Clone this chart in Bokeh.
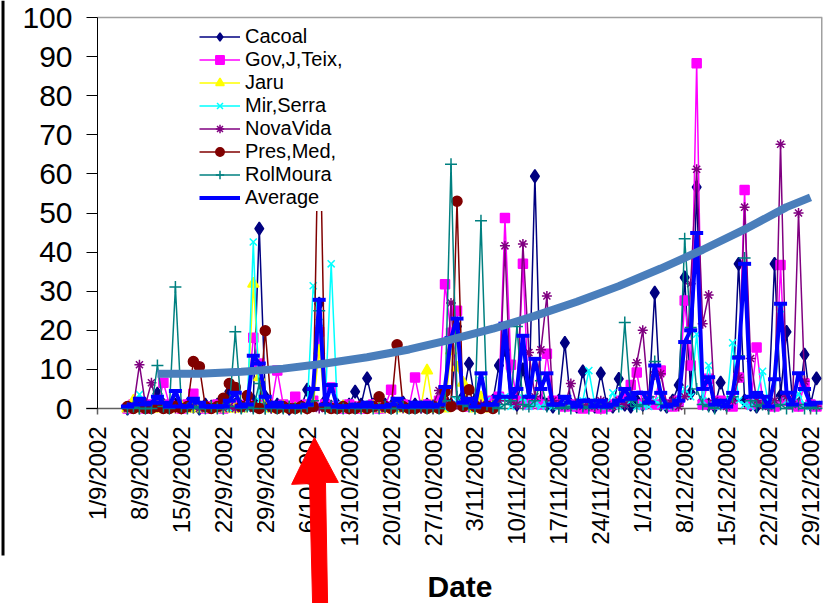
from datetime import datetime
import numpy as np
import pandas as pd
from bokeh.plotting import figure
from bokeh.models import (ColumnDataSource, FixedTicker, Legend, LegendItem,
                          Range1d, Span)
from bokeh.core.properties import value
from bokeh.embed import file_html
from bokeh.resources import INLINE

# ---------------- data (daily, 6 Sep 2002 .. 30 Dec 2002) ----------------
dates = pd.date_range("2002-09-06", "2002-12-30", freq="D")

cacoal = [0, 1, 0.5, 1, 0.5, 3.8, 1, 0.5, 1, 0.5,
          1, 0.5, 0, 1, 0.5, 1, 2, 4.3, 1, 0.5,
          1, 2, 46, 3, 0.5, 1, 0.5, 0, 1, 0.5,
          4.8, 1, 26.8, 2, 0.5, 1, 0.5, 1, 4.3, 1,
          7.7, 1, 0.5, 1, 0.5, 1, 1.5, 0.5, 1, 0.5,
          1, 0.5, 1, 2, 1, 21, 3, 11.5, 2, 1,
          1, 2, 11, 15, 2, 1, 10, 2, 59.4, 2,
          1, 0.5, 2, 16.8, 1, 0.5, 9.5, 1, 0.5, 9,
          1, 0.5, 7.6, 1, 0.5, 2, 1, 2, 29.6, 1,
          0.5, 2, 6, 33.5, 4, 56.6, 2, 1, 0.5, 6.6,
          1, 2, 37, 2, 1, 0.5, 2, 1, 37, 3.3,
          19.6, 2, 1, 13.8, 1, 7.7]

gov_teix = [0, 1, 0.5, 0, 1, 0.5, 6.6, 1, 0.5, 0,
            1, 3.8, 0.5, 0, 0.5, 1, 0, 0.5, 1, 0.5,
            1, 18.1, 11.5, 1, 0.5, 9.7, 1, 0.5, 3, 0.5,
            1, 2, 19.6, 1, 5.4, 0.5, 0, 1, 0.5, 0,
            0.5, 1, 0, 0.5, 4.8, 0.5, 1, 0.5, 7.9, 0.5,
            1, 0.5, 2, 31.8, 19.4, 25, 1, 0.5, 1, 0.5,
            1, 2, 3, 48.7, 11.2, 2, 37, 1, 2, 1,
            14, 2, 1, 0.5, 1, 0.5, 0, 1, 0.5, 0,
            0.5, 1, 2, 3, 6, 9.2, 1, 2, 1, 9.7,
            1, 0.5, 2, 27.6, 11, 88.3, 1, 7.6, 1, 2,
            1, 0.5, 7.9, 55.9, 1, 15.6, 2, 1, 0.5, 36.7,
            2, 1, 0.5, 6.4, 1, 0.5]

jaru = [0, 2, 0, 0.5, 0, 0, 0.5, 0, 0, 0.5,
        0, 0, 0.5, 0, 0, 0, 0.5, 0, 0, 0,
        0.5, 31.9, 8, 1, 0, 0, 0.5, 0, 0, 0,
        0.5, 1, 14.8, 1, 0, 0, 0.5, 0, 0, 0,
        0, 0.5, 0, 0, 0, 0.5, 0, 0, 0, 0.5,
        9.7, 0, 0.5, 0, 14.8, 10.5, 6.6, 0.5, 0, 2.8,
        0, 0.5]

mir_serra = [0, 0.5, 3.6, 0.5, 0, 0, 0.5, 0, 0, 0,
             0, 0.5, 0, 0, 0, 0, 0.5, 0, 0, 0,
             0, 42.6, 2, 0, 0, 0.5, 0, 0, 0, 0,
             0, 31.4, 22, 0.5, 37, 1, 0, 0, 0.5, 0,
             0, 0, 0.5, 0, 0, 0, 0.5, 0, 0, 0,
             0, 0.5, 0, 0, 1, 2, 1, 0.5, 0, 7.1,
             2, 0.5, 1, 3, 0.5, 1, 2.8, 0.5, 1, 0.5,
             1, 0.5, 0.5, 1, 0.5, 1, 2, 9.7, 1, 0.5,
             1, 4, 0.5, 1, 2, 0.5, 1, 0.5, 2, 1,
             0.5, 1, 2, 5, 3, 19, 2, 11, 1, 0.5,
             1, 16.8, 2, 1, 0.5, 3, 9.5, 1, 2, 25.5,
             2, 1, 3.8, 1, 0.5, 1]

nova_vida = [0, 0.5, 11.2, 1, 6.6, 0.5, 0, 0.5, 0, 0,
             0, 0.5, 0, 0, 0.5, 0, 0, 0.5, 0, 0,
             0.5, 0, 0, 0.5, 0, 0, 0, 0.5, 0, 0,
             0, 0.5, 0, 0, 0.5, 0, 0, 0, 0.5, 0,
             0, 0.5, 0, 0, 0, 0.5, 0, 0, 0.5, 0,
             0.5, 1, 4.6, 2, 27, 1, 0.5, 1, 0.5, 1,
             0.5, 1, 2, 41.6, 2, 1, 42.1, 14.3, 3, 15,
             28.8, 2, 1, 0.5, 6.4, 1, 0.5, 1, 0.5, 2,
             1, 0.5, 2, 1, 3, 11.7, 20, 2, 8.6, 8.9,
             1, 2, 0.5, 3, 31.9, 61.2, 21.7, 29, 2, 1,
             0.5, 2, 7.9, 51.5, 12.8, 2, 1, 0.5, 2, 67.6,
             3, 1, 50, 7, 1, 0.5]

pres_med = [0.5, 0, 0.5, 0, 0, 0.5, 0, 0, 0.5, 0,
            0.5, 12, 10.7, 0.5, 0, 0.5, 2.6, 6.4, 5.4, 0.5,
            3.3, 0.5, 0, 19.9, 0.5, 0, 0.5, 0, 0, 0.5,
            0, 0.5, 85, 0.5, 0, 0, 0.5, 0, 0, 0.5,
            0, 0.5, 3, 0.5, 0, 16.3, 0.5, 0, 0, 0.5,
            0, 0.5, 0, 4.3, 0.5, 53, 0.5, 4.8, 0.5, 0,
            0.5, 0]

rol_moura = [0, 0.5, 0, 0, 0, 11, 0.5, 0, 31.1, 0.5,
             0, 0.5, 0, 0, 0.5, 0, 0, 0.5, 19.6, 0,
             0.5, 0, 6.4, 0, 0.5, 0, 0, 0.5, 0, 0,
             0.5, 2, 25, 0, 0.5, 0, 0, 0.5, 0, 0,
             0.5, 0, 0, 0.5, 0, 0, 0.5, 0, 0, 0.5,
             0, 0.5, 0, 2, 62.5, 3, 1, 0.5, 0, 48,
             1, 0.5, 0, 1, 2, 21, 1, 0.5, 2, 7.1,
             0.5, 1, 0, 0.5, 0, 1, 0.5, 0, 1, 0.5,
             0, 1, 0.5, 22, 2, 0.5, 1, 3, 12, 1,
             0.5, 1, 2, 43.4, 20.7, 5, 1, 0.5, 0, 1,
             0.5, 3, 13.5, 38.5, 2, 0.5, 1, 0, 0.5, 1,
             0, 0.5, 1, 0, 0.5, 0]

average = [0.5, 1, 2.5, 1, 1.5, 3, 1.5, 0.5, 4.5, 0.5,
           0.5, 2.5, 1.5, 0.5, 0.5, 0.5, 0.5, 2, 4, 0.5,
           1, 13.5, 11.5, 3, 0.5, 1.5, 0.5, 0.5, 0.5, 0.5,
           1, 5, 27.8, 1, 6, 0.5, 0.5, 0.5, 1, 0.5,
           1.5, 0.5, 0.5, 0.5, 1, 2.5, 0.5, 0.5, 1.5, 0.5,
           1.5, 0.5, 1, 5.5, 18, 23, 1.5, 2.5, 0.5, 9,
           1, 1, 3, 21.7, 3, 5, 18.6, 3, 12.7, 5,
           9, 1, 1, 3, 1.5, 0.5, 2, 2, 0.5, 2,
           0.5, 1, 2, 5, 2.5, 4, 4, 1.5, 11, 4,
           0.5, 1, 2, 17, 20, 44.9, 5, 8, 1, 2,
           0.5, 4, 13, 37, 3, 4, 3, 0.5, 7.5, 26.8,
           4, 1, 9, 5, 1, 1.5]

# trend curve (weekly from 11 Sep)
trend_dates = pd.date_range("2002-09-11", periods=16, freq="7D").append(
    pd.DatetimeIndex(["2002-12-29"]))
trend_values = [8.9, 8.9, 9.4, 10.2, 11.5, 13.1, 15.1, 17.6, 20.4, 23.7,
                27.3, 31.3, 35.8, 40.6, 45.8, 51.5, 54.0]

tick_dates = pd.date_range("2002-09-01", periods=18, freq="7D")
tick_labels = ["1/9/2002", "8/9/2002", "15/9/2002", "22/9/2002", "29/9/2002",
               "6/10/2002", "13/10/2002", "20/10/2002", "27/10/2002",
               "3/11/2002", "10/11/2002", "17/11/2002", "24/11/2002",
               "1/12/2002", "8/12/2002", "15/12/2002", "22/12/2002",
               "29/12/2002"]
y_ticks = list(range(0, 101, 10))

axis_start, x_end = datetime(2002, 9, 1), datetime(2002, 12, 31)
# the drawing area covers the whole picture; the axes sit inside it
view_start = pd.Timestamp(axis_start) - pd.Timedelta(days=16.19)
Y_TOP, Y_BOTTOM = 104.35, -49.87


def pad(v):
    return np.array(list(v) + [np.nan] * (len(dates) - len(v)), dtype=float)


src = ColumnDataSource(dict(
    date=dates,
    cacoal=pad(cacoal), gov=pad(gov_teix), jaru=pad(jaru), mir=pad(mir_serra),
    nova=pad(nova_vida), pres=pad(pres_med), rol=pad(rol_moura), avg=pad(average)))

FONT = "Liberation Sans"

p = figure(width=830, height=603, x_axis_type="datetime", x_axis_location=None,
           x_range=Range1d(view_start, x_end), y_range=Range1d(Y_BOTTOM, Y_TOP),
           output_backend="svg", toolbar_location=None,
           min_border_left=0, min_border_right=8, min_border_top=0,
           min_border_bottom=0)
p.grid.visible = False
p.background_fill_color = "white"
p.border_fill_color = "white"
p.outline_line_color = None

# y axis, drawn at 1 Sep, spanning 0..100
p.yaxis.fixed_location = pd.Timestamp(axis_start).value / 1e6
p.yaxis.bounds = (0, 100)
p.yaxis.ticker = FixedTicker(ticks=y_ticks)
p.yaxis.minor_tick_line_color = None
p.yaxis.major_tick_in = 0
p.yaxis.major_tick_out = 11
p.yaxis.major_label_standoff = 14
p.yaxis.axis_line_color = "black"
p.yaxis.major_tick_line_color = "black"
p.yaxis.major_label_text_font = FONT
p.yaxis.major_label_text_font_size = "30px"
p.yaxis.major_label_text_color = "black"

# left border line of the surrounding chart area
p.segment(x0=[view_start + pd.Timedelta(days=0.42)], y0=[Y_TOP],
          x1=[view_start + pd.Timedelta(days=0.42)], y1=[-37.6],
          line_color="black", line_width=3)

# plot-area border (top and right) and the date axis at y = 0
p.segment(x0=[axis_start], y0=[100], x1=[x_end], y1=[100], line_color="#A0A0A0",
          line_width=1.5)
p.segment(x0=[x_end], y0=[0], x1=[x_end], y1=[100], line_color="#A0A0A0",
          line_width=3)
p.segment(x0=[axis_start - pd.Timedelta(days=1.9)], y0=[0], x1=[x_end], y1=[0],
          line_color="#606060", line_width=1.5)
p.segment(x0=tick_dates, y0=[0] * len(tick_dates), x1=tick_dates,
          y1=[-1.55] * len(tick_dates), line_color="#606060", line_width=1.5)
p.text(x=tick_dates, y=[-4.6] * len(tick_dates), text=tick_labels,
       angle=np.pi / 2, text_align="right", text_baseline="middle",
       text_font=value(FONT), text_font_size=value("24px"), text_color="black")
p.text(x=[axis_start + (x_end - axis_start) / 2], y=[-45.6], text=["Date"],
       text_align="center", text_baseline="middle", text_font=value(FONT),
       text_font_size=value("30px"), text_font_style="bold", text_color="black")

series = [
    ("Cacoal", "cacoal", "#000080", "diamond", 13),
    ("Gov,J,Teix,", "gov", "#FF00FF", "square", 9),
    ("Jaru", "jaru", "#FFFF00", "triangle", 11),
    ("Mir,Serra", "mir", "#00FFFF", "x", 10),
    ("NovaVida", "nova", "#800080", "asterisk", 10),
    ("Pres,Med,", "pres", "#800000", "circle", 10),
    ("RolMoura", "rol", "#008080", "cross", 12),
]

items = []
for label, col, color, marker, size in series:
    lr = p.line("date", col, source=src, line_color=color, line_width=1.5)
    sr = p.scatter("date", col, source=src, marker=marker, size=size,
                   line_color=color, fill_color=color, line_width=1.5)
    items.append(LegendItem(label=label, renderers=[lr, sr]))

alr = p.line("date", "avg", source=src, line_color="#0000FF", line_width=4)
p.scatter("date", "avg", source=src, marker="dash", size=13,
          line_color="#0000FF", line_width=4)
items.append(LegendItem(label="Average", renderers=[alr]))

p.line(trend_dates, trend_values, line_color="#4A7EBB", line_width=8,
       line_join="round")

# red arrow pointing at the 6/10/2002 tick label
arrow_days = [36.2, 40.2, 38.05, 38.4, 35.9, 35.4, 32.4]
arrow_vals = [-7.4, -18.9, -18.9, -49.9, -49.9, -19.2, -19.4]
p.patch([axis_start + pd.Timedelta(days=d) for d in arrow_days], arrow_vals,
        fill_color="#FF0000", line_color="#FF0000", line_width=1)

legend = Legend(items=items, location=(197, 392))
legend.background_fill_color = "white"
legend.background_fill_alpha = 1.0
legend.border_line_alpha = 0
legend.padding = 2
legend.spacing = 0
legend.margin = 0
legend.glyph_width = 41
legend.glyph_height = 21
legend.label_height = 21
legend.label_standoff = 5
legend.label_text_font = FONT
legend.label_text_font_size = "20px"
legend.label_text_color = "black"
p.add_layout(legend)

open("out.html", "w").write(file_html(p, INLINE))
